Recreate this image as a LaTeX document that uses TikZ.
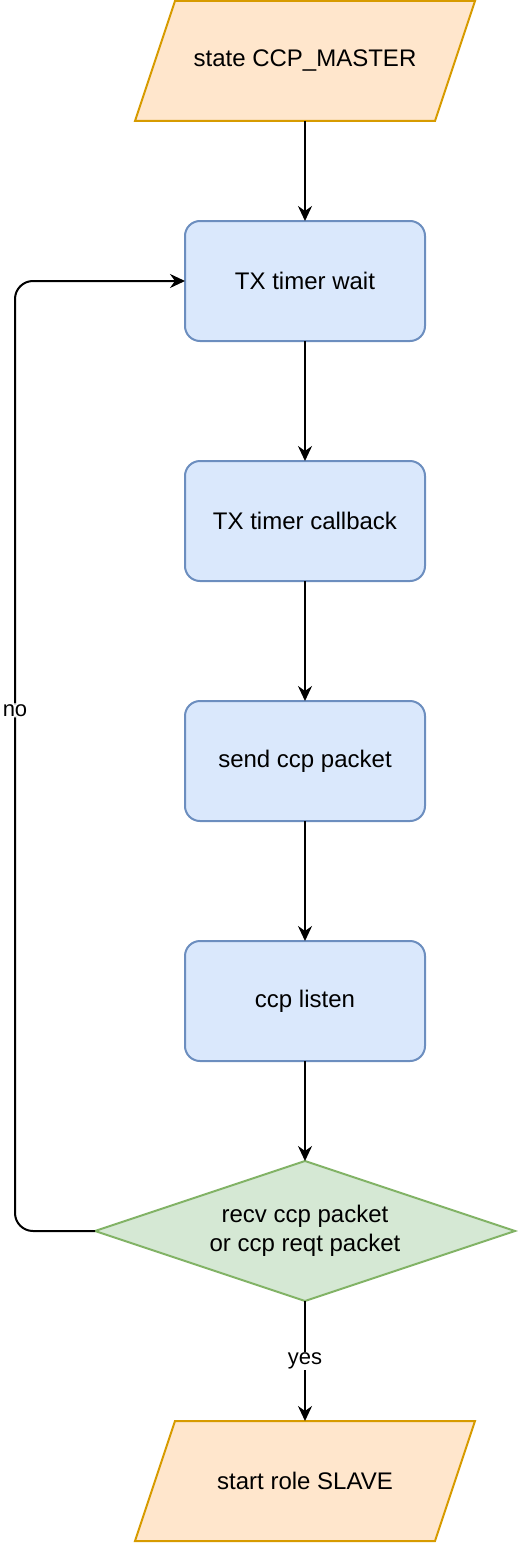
\documentclass[tikz,border=0pt]{standalone}
\usepackage{fontspec}
\setmainfont{Liberation Sans}
\usepackage{xcolor}
\usepackage{tikz}
\usetikzlibrary{arrows.meta}
\usetikzlibrary{shapes.geometric}
\usetikzlibrary{positioning,calc}
\usetikzlibrary{backgrounds}
\definecolor{ioFill}{HTML}{FFE6CC}
\definecolor{ioLine}{HTML}{D79B00}
\definecolor{procFill}{HTML}{DAE8FC}
\definecolor{procLine}{HTML}{6C8EBF}
\definecolor{decFill}{HTML}{D5E8D4}
\definecolor{decLine}{HTML}{82B366}
\begin{document}
\begin{tikzpicture}[x=1pt,y=-1pt,
	font=\fontsize{24}{28.5}\selectfont,
	io/.style={rectangle,minimum width=300pt,minimum height=120pt,inner sep=0pt,outer sep=0pt},
	ioshape/.style={draw=ioLine,fill=ioFill,line width=2pt,line join=miter},
	proc/.style={rectangle,rounded corners=15pt,minimum width=240pt,minimum height=120pt,inner sep=0pt,outer sep=0pt,line width=2pt,draw=procLine,fill=procFill},
	dec/.style={diamond,shape aspect=3,minimum width=420pt,minimum height=140pt,inner sep=0pt,outer sep=0pt,align=center,line width=2pt,draw=decLine,fill=decFill},
	arr/.style={-{Stealth[length=15pt,width=14pt,inset=5pt]},line width=2pt,black},
	lab/.style={fill=white,inner sep=1pt,font=\fontsize{22}{26}\selectfont}]
		\useasboundingbox (0,0) rectangle (518,1544);
		\node[io] (master) at (305,61) {state CCP\_MASTER};
		\node[proc] (txwait) at (305,281) {TX timer wait};
		\node[proc] (txcb) at (305,521) {TX timer callback};
		\node[proc] (send) at (305,761) {send ccp packet};
		\node[proc] (listen) at (305,1001) {ccp listen};
		\node[dec] (recv) at (305,1231) {recv ccp packet\\or ccp reqt packet};
		\node[io] (slave) at (305,1481) {start role SLAVE};
		\begin{pgfonlayer}{background}
			\foreach \n in {master,slave}
				\draw[ioshape] ($(\n.south west)+(-20,0)$) -- ($(\n.south east)+(-20,0)$) -- ($(\n.north east)+(20,0)$) -- ($(\n.north west)+(20,0)$) -- cycle;
		\end{pgfonlayer}
			\draw[arr] (master) -- (txwait);
			\draw[arr] (txwait) -- (txcb);
			\draw[arr] (txcb) -- (send);
			\draw[arr] (send) -- (listen);
			\draw[arr] (listen) -- (recv);
			\draw[arr] (recv) -- node[lab] {yes} (slave);
			\draw[arr,rounded corners=18pt] (recv.west) -- ++(-80,0) |- node[lab,pos=0.274] {no} (txwait.west);
	\end{tikzpicture}
\end{document}
